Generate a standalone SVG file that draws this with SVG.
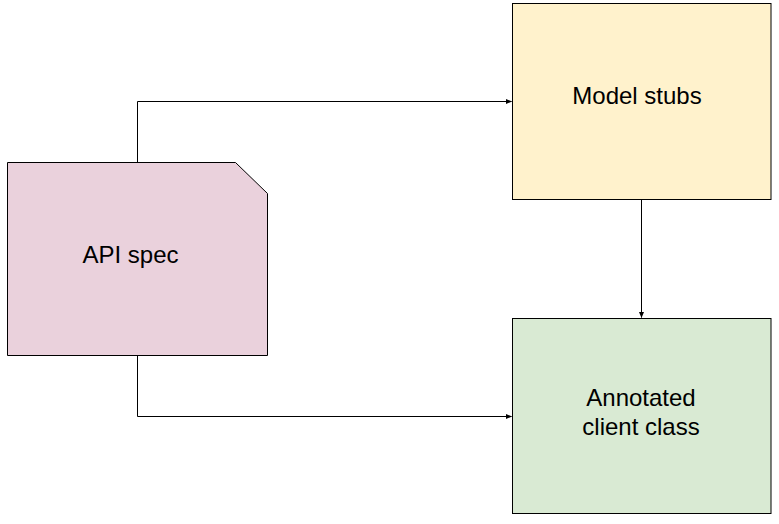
<svg xmlns="http://www.w3.org/2000/svg" width="779" height="524" viewBox="0 0 779 524">
  <style>
    .node { stroke: #000; stroke-width: 1; }
    .label { font-family: "Liberation Sans", Arial, sans-serif; font-size: 24px; fill: #000; text-anchor: middle; }
    .edge { fill: none; stroke: #000; stroke-width: 1; }
  </style>
  <defs>
    <marker id="arrow" viewBox="0 0 6 6" refX="5.5" refY="3" markerWidth="6" markerHeight="6" markerUnits="userSpaceOnUse" orient="auto">
      <path d="M0,0.5 L6,3 L0,5.5 Z" fill="#000"/>
    </marker>
  </defs>
  <rect width="779" height="524" fill="#fff"/>

  <g id="connectors">
    <path class="edge" d="M137.5,162 V101.5 H511.5" marker-end="url(#arrow)"/>
    <path class="edge" d="M137.5,355 V416.5 H511.5" marker-end="url(#arrow)"/>
    <path class="edge" d="M641.5,199 V317.5" marker-end="url(#arrow)"/>
  </g>

  <g id="api-spec">
    <path class="node" fill="#ead1dc" d="M7.5,162.5 H235.5 L267.5,193.5 V355.5 H7.5 Z"/>
    <text class="label" x="130.5" y="263">API spec</text>
  </g>

  <g id="model-stubs">
    <rect class="node" fill="#fff2cc" x="512.5" y="3.5" width="258.5" height="196"/>
    <text class="label" x="637" y="104">Model stubs</text>
  </g>

  <g id="annotated-client">
    <rect class="node" fill="#d9ead3" x="512.5" y="318.5" width="258.5" height="195"/>
    <text class="label" x="641" y="406">Annotated</text>
    <text class="label" x="641" y="435">client class</text>
  </g>
</svg>
